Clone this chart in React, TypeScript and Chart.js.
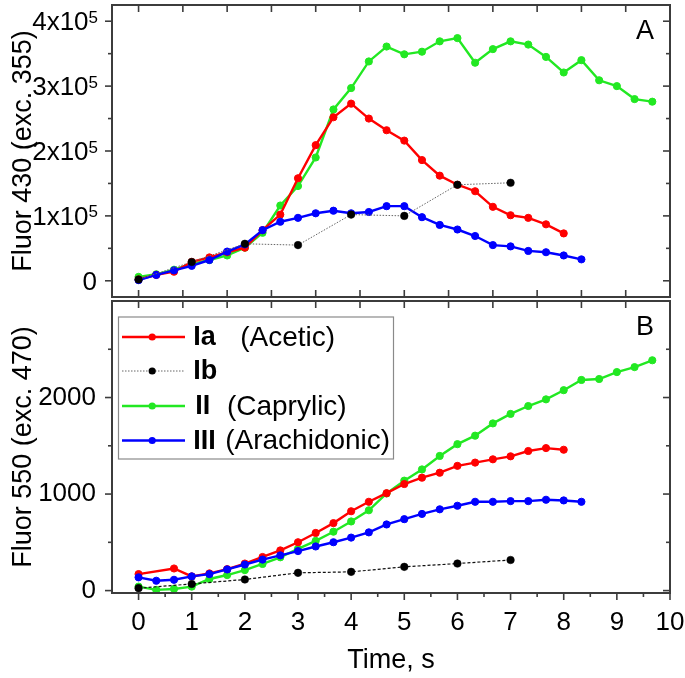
import React, { useEffect, useRef } from 'react';
import { Chart, registerables } from 'chart.js';

Chart.register(...registerables);

const FONT = '"Liberation Sans", Arial, Helvetica, sans-serif';

// ---------- Panel A : Fluor 430 (exc. 355) ----------
const timeA_Ia = [0, 0.333, 0.667, 1, 1.333, 1.667, 2, 2.333, 2.667, 3, 3.333, 3.667, 4, 4.333, 4.667, 5, 5.333, 5.667, 6, 6.333, 6.667, 7, 7.333, 7.667, 8];
const fluorA_Ia = [2000, 9000, 14000, 29000, 36000, 44000, 51000, 78000, 102000, 158000, 209000, 252000, 273000, 250000, 232000, 216000, 186000, 162000, 148000, 138000, 114000, 101000, 97000, 87000, 73000];

const timeA_Ib = [0, 1, 2, 3, 4, 5, 6, 7];
const fluorA_Ib = [2000, 29000, 57000, 55000, 102000, 100000, 148000, 151000];

const timeA_II = [0, 0.333, 0.667, 1, 1.333, 1.667, 2, 2.333, 2.667, 3, 3.333, 3.667, 4, 4.333, 4.667, 5, 5.333, 5.667, 6, 6.333, 6.667, 7, 7.333, 7.667, 8, 8.333, 8.667, 9, 9.333, 9.667];
const fluorA_II = [6000, 10000, 17000, 26000, 32000, 39000, 51000, 74000, 116000, 146000, 190000, 264000, 297000, 338000, 361000, 349000, 353000, 369000, 374000, 336000, 357000, 369000, 364000, 345000, 321000, 340000, 309000, 300000, 280000, 276000];

const timeA_III = [0, 0.333, 0.667, 1, 1.333, 1.667, 2, 2.333, 2.667, 3, 3.333, 3.667, 4, 4.333, 4.667, 5, 5.333, 5.667, 6, 6.333, 6.667, 7, 7.333, 7.667, 8, 8.333];
const fluorA_III = [1000, 9000, 16000, 23000, 32000, 45000, 56000, 78000, 91000, 97000, 104000, 108000, 104000, 106000, 115000, 115000, 98000, 86000, 79000, 69000, 55000, 53000, 46000, 44000, 39000, 33000];

// ---------- Panel B : Fluor 550 (exc. 470) ----------
const timeB_Ia = [0, 0.667, 1, 1.333, 1.667, 2, 2.333, 2.667, 3, 3.333, 3.667, 4, 4.333, 4.667, 5, 5.333, 5.667, 6, 6.333, 6.667, 7, 7.333, 7.667, 8];
const fluorB_Ia = [171, 229, 147, 178, 222, 280, 348, 416, 501, 597, 699, 822, 920, 1009, 1104, 1170, 1221, 1292, 1326, 1360, 1391, 1446, 1476, 1459];

const timeB_Ib = [0, 1, 2, 3, 4, 5, 6, 7];
const fluorB_Ib = [25, 69, 115, 184, 194, 246, 280, 317];

const timeB_II = [0, 0.333, 0.667, 1, 1.333, 1.667, 2, 2.333, 2.667, 3, 3.333, 3.667, 4, 4.333, 4.667, 5, 5.333, 5.667, 6, 6.333, 6.667, 7, 7.333, 7.667, 8, 8.333, 8.667, 9, 9.333, 9.667];
const fluorB_II = [41, 7, 17, 41, 120, 161, 212, 276, 345, 433, 515, 610, 716, 832, 1006, 1139, 1255, 1395, 1517, 1605, 1732, 1830, 1912, 1981, 2076, 2182, 2192, 2264, 2315, 2386];

const timeB_III = [0, 0.333, 0.667, 1, 1.333, 1.667, 2, 2.333, 2.667, 3, 3.333, 3.667, 4, 4.333, 4.667, 5, 5.333, 5.667, 6, 6.333, 6.667, 7, 7.333, 7.667, 8, 8.333];
const fluorB_III = [137, 102, 112, 147, 171, 219, 270, 321, 365, 409, 457, 501, 549, 603, 685, 740, 794, 842, 879, 920, 920, 927, 927, 941, 934, 920];

// ---------- ticks / labels ----------
const xTickLabels = [0, 1, 2, 3, 4, 5, 6, 7, 8, 9, 10];
const xMinorTicks = [0.5, 1.5, 2.5, 3.5, 4.5, 5.5, 6.5, 7.5, 8.5, 9.5];
const panelXTicks = [0, 0.8333, 1.6667, 2.5, 3.3333, 4.1667, 5, 5.8333, 6.6667, 7.5, 8.3333, 9.1667, 10];
const yTicksA = [0, 100000, 200000, 300000, 400000];
const yMinorA = [50000, 150000, 250000, 350000];
const yTicksB = [0, 1000, 2000];
const yMinorB = [500, 1500, 2500];

const seriesNames = ['Ia', 'Ib', 'II', 'III'];
const seriesNotes = ['(Acetic)', '', '(Caprylic)', '(Arachidonic)'];

const RED = '#ff0000';
const GREEN = '#22e822';
const BLUE = '#0000ff';
const FRAME = '#3c3c3c';

const pts = (t: number[], v: number[]) => t.map((x, i) => ({ x, y: v[i] }));

function lineDs(label: string, data: any[], color: string, order: number) {
  return {
    label, data, order,
    borderColor: color, backgroundColor: color,
    borderWidth: 2.4, pointRadius: 3.6, pointBorderWidth: 1,
    pointBorderColor: color, pointBackgroundColor: color,
    tension: 0, fill: false,
  };
}

function ibDs(data: any[], dashColor: string, dash: number[], width: number) {
  return {
    label: 'Ib', data, order: 0,
    borderColor: dashColor, backgroundColor: '#000',
    borderWidth: width, borderDash: dash,
    pointRadius: 3.8, pointBorderWidth: 0.5,
    pointBorderColor: '#000', pointBackgroundColor: '#000',
    tension: 0, fill: false,
  };
}

const noPad = (s: any) => {
  s.paddingTop = 0; s.paddingBottom = 0; s.paddingLeft = 0; s.paddingRight = 0;
};

function makePanelPlugin(panel: 'A' | 'B') {
  return {
    id: 'panel' + panel,
    afterDatasetsDraw(chart: any) {
      const { ctx, chartArea: ca, scales } = chart;
      const xs = scales.x, ys = scales.y;
      const line = (x1: number, y1: number, x2: number, y2: number) => {
        ctx.beginPath(); ctx.moveTo(x1, y1); ctx.lineTo(x2, y2); ctx.stroke();
      };
      ctx.save();
      ctx.strokeStyle = FRAME;
      ctx.lineWidth = 2;
      ctx.strokeRect(ca.left, ca.top, ca.right - ca.left, ca.bottom - ca.top);
      ctx.lineWidth = 1.6;
      const majors = panel === 'A' ? yTicksA : yTicksB;
      const minors = panel === 'A' ? yMinorA : yMinorB;
      for (const v of majors) {
        const py = ys.getPixelForValue(v);
        line(ca.left - 7, py, ca.left, py);
        line(ca.right - 7, py, ca.right, py);
      }
      for (const v of minors) {
        const py = ys.getPixelForValue(v);
        line(ca.left - 4, py, ca.left, py);
        line(ca.right - 4, py, ca.right, py);
      }
      for (const v of panelXTicks) {
        const px = xs.getPixelForValue(v);
        line(px, ca.top, px, ca.top + 7);
        if (panel === 'A') line(px, ca.bottom, px, ca.bottom - 7);
      }
      if (panel === 'B') {
        for (const v of xTickLabels) {
          const px = xs.getPixelForValue(v);
          line(px, ca.bottom, px, ca.bottom + 7);
        }
        for (const v of xMinorTicks) {
          const px = xs.getPixelForValue(v);
          line(px, ca.bottom, px, ca.bottom + 4);
        }
      }

      ctx.fillStyle = '#000';
      if (panel === 'A') {
        const xr = ca.left - 14;
        ctx.textAlign = 'right';
        ctx.textBaseline = 'alphabetic';
        for (const v of yTicksA) {
          const py = ys.getPixelForValue(v);
          if (v === 0) {
            ctx.font = `26px ${FONT}`;
            ctx.fillText('0', xr - 1, py + 9);
            continue;
          }
          ctx.font = `17px ${FONT}`;
          const sup = '5';
          const sw = ctx.measureText(sup).width;
          ctx.fillText(sup, xr, py + 1.5);
          ctx.font = `26px ${FONT}`;
          ctx.fillText(`${v / 100000}x10`, xr - sw, py + 9);
        }
      }

      ctx.font = `27px ${FONT}`;
      ctx.textAlign = 'right';
      ctx.textBaseline = 'middle';
      ctx.fillText(panel, ca.right - 16, ca.top + 27);

      if (panel === 'B') {
        const bx = ca.left + 6.5, by = ca.top + 16, bw = 275, bh = 142;
        ctx.fillStyle = '#fff';
        ctx.fillRect(bx, by, bw, bh);
        ctx.strokeStyle = '#8a8a8a';
        ctx.lineWidth = 1.2;
        ctx.strokeRect(bx, by, bw, bh);
        const rows = [20, 54, 89, 123.5];
        const boldX = [74.7, 74.7, 76.7, 74.7];
        const noteX = [121.7, 0, 108.4, 106.7];
        for (let i = 0; i < 4; i++) {
          const ds = chart.data.datasets[i];
          const ry = by + rows[i];
          ctx.save();
          ctx.strokeStyle = i === 1 ? '#666' : ds.borderColor;
          ctx.lineWidth = i === 1 ? 1 : ds.borderWidth;
          ctx.setLineDash(i === 1 ? [1.5, 1.5] : []);
          line(bx + 3.5, ry, bx + 66.5, ry);
          ctx.restore();
          ctx.beginPath();
          ctx.fillStyle = ds.pointBackgroundColor;
          ctx.arc(bx + 33.7, ry, 3.6, 0, Math.PI * 2);
          ctx.fill();
          ctx.fillStyle = '#000';
          ctx.textAlign = 'left';
          ctx.textBaseline = 'middle';
          ctx.font = `bold 27px ${FONT}`;
          ctx.fillText(seriesNames[i], bx + boldX[i], ry + 1);
          if (seriesNotes[i]) {
            ctx.font = `28px ${FONT}`;
            ctx.fillText(seriesNotes[i], bx + noteX[i], ry + 1);
          }
        }
      }
      ctx.restore();
    },
  };
}

export default function App() {
  const refA = useRef<HTMLCanvasElement>(null);
  const refB = useRef<HTMLCanvasElement>(null);

  useEffect(() => {
    const common = {
      responsive: false,
      maintainAspectRatio: false,
      animation: false as const,
      devicePixelRatio: 1,
      plugins: { legend: { display: false }, tooltip: { enabled: false } },
    };

    const chartA = new Chart(refA.current!, {
      type: 'line',
      data: {
        datasets: [
          ibDs(pts(timeA_Ib, fluorA_Ib), '#666', [1.5, 1.5], 1),
          lineDs('III', pts(timeA_III, fluorA_III), BLUE, 1),
          lineDs('Ia', pts(timeA_Ia, fluorA_Ia), RED, 2),
          lineDs('II', pts(timeA_II, fluorA_II), GREEN, 3),
        ],
      },
      options: {
        ...common,
        layout: { padding: { top: 1, right: 15, bottom: 8, left: 0 } },
        scales: {
          x: { type: 'linear', min: -0.5, max: 10, display: false },
          y: {
            type: 'linear', min: -25000, max: 425000,
            grid: { display: false }, border: { display: false },
            ticks: { display: false },
            title: {
              display: true, text: 'Fluor 430 (exc. 355)', color: '#000',
              font: { family: FONT, size: 27 }, padding: { top: 7, bottom: 0 },
            },
            afterFit: (s: any) => { s.width = 112; noPad(s); },
          },
        },
      },
      plugins: [makePanelPlugin('A')],
    } as any);

    const chartB = new Chart(refB.current!, {
      type: 'line',
      data: {
        datasets: [
          lineDs('Ia', pts(timeB_Ia, fluorB_Ia), RED, 2),
          ibDs(pts(timeB_Ib, fluorB_Ib), '#111', [3, 2], 1.2),
          lineDs('II', pts(timeB_II, fluorB_II), GREEN, 3),
          lineDs('III', pts(timeB_III, fluorB_III), BLUE, 1),
        ],
      },
      options: {
        ...common,
        layout: { padding: { top: 1, right: 15, bottom: 0, left: 0 } },
        scales: {
          x: {
            type: 'linear', min: -0.5, max: 10, position: 'bottom',
            grid: { display: true, drawOnChartArea: false, drawTicks: false, color: 'rgba(0,0,0,0)' },
            border: { display: false },
            afterBuildTicks: (s: any) => { s.ticks = xTickLabels.map((v) => ({ value: v })); },
            ticks: {
              autoSkip: false, maxRotation: 0, color: '#000', padding: 14,
              font: { family: FONT, size: 26 },
              callback: (v: any) => String(v),
            },
            title: {
              display: true, text: 'Time, s', color: '#000',
              font: { family: FONT, size: 27 }, padding: { top: 0, bottom: 1 },
            },
            afterFit: (s: any) => { s.height = 85; noPad(s); },
          },
          y: {
            type: 'linear', min: -25, max: 3000,
            grid: { display: true, drawOnChartArea: false, drawTicks: false, color: 'rgba(0,0,0,0)' },
            border: { display: false },
            afterBuildTicks: (s: any) => { s.ticks = yTicksB.map((v) => ({ value: v })); },
            ticks: {
              color: '#000', padding: 16,
              font: { family: FONT, size: 26 },
              callback: (v: any) => String(v),
            },
            title: {
              display: true, text: 'Fluor 550 (exc. 470)', color: '#000',
              font: { family: FONT, size: 27 }, padding: { top: 7, bottom: 0 },
            },
            afterFit: (s: any) => { s.width = 112; noPad(s); },
          },
        },
      },
      plugins: [makePanelPlugin('B')],
    } as any);

    return () => { chartA.destroy(); chartB.destroy(); };
  }, []);

  return (
    <div style={{ position: 'absolute', left: 0, top: 0, width: 685, height: 678, background: '#fff' }}>
      <canvas ref={refA} width={685} height={305}
        style={{ position: 'absolute', left: 0, top: 0, width: 685, height: 305 }} />
      <canvas ref={refB} width={685} height={382}
        style={{ position: 'absolute', left: 0, top: 296, width: 685, height: 382 }} />
    </div>
  );
}
